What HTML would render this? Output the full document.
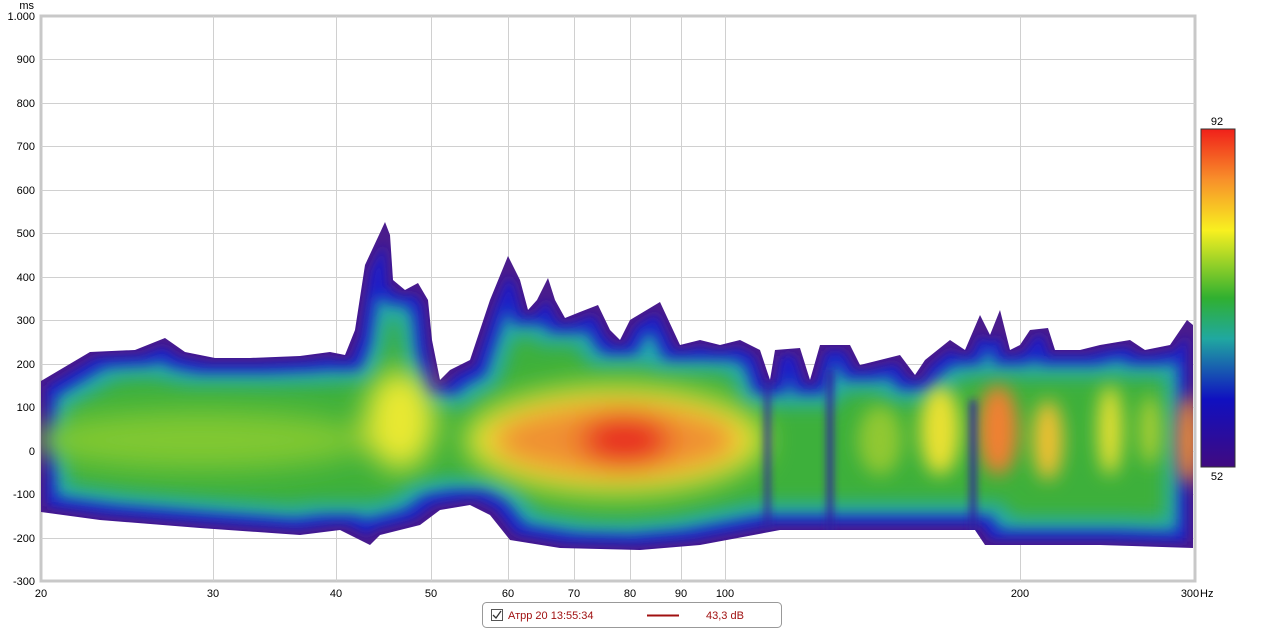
<!DOCTYPE html>
<html><head><meta charset="utf-8"><style>
body{margin:0;background:#fff;width:1265px;height:630px;overflow:hidden;font-family:"Liberation Sans",sans-serif}
</style></head><body>
<svg width="1265" height="630" xmlns="http://www.w3.org/2000/svg" font-family="Liberation Sans, sans-serif" font-size="11">
<defs>
<filter id="e8" x="-5%" y="-20%" width="110%" height="140%"><feMorphology operator="erode" radius="6"/><feGaussianBlur stdDeviation="5"/></filter>
<filter id="e20" x="-5%" y="-20%" width="110%" height="140%"><feMorphology operator="erode" radius="15"/><feGaussianBlur stdDeviation="7"/></filter>
<filter id="e32" x="-5%" y="-20%" width="110%" height="140%"><feMorphology operator="erode" radius="27"/><feGaussianBlur stdDeviation="9"/></filter>
<filter id="bl" x="-50%" y="-50%" width="200%" height="200%"><feGaussianBlur stdDeviation="14"/></filter>
<filter id="bl3" x="-50%" y="-50%" width="200%" height="200%"><feGaussianBlur stdDeviation="9"/></filter>
<filter id="bl2" x="-50%" y="-50%" width="200%" height="200%"><feGaussianBlur stdDeviation="4"/></filter>
<clipPath id="cp"><path id="envp" d="M41,381 L90,352 L135,350 L165,338 L185,352 L215,358 L250,358 L300,356 L330,352 L345,355 L355,330 L365,265 L385,222 L390,235 L393,280 L405,290 L418,283 L428,300 L432,340 L440,380 L450,370 L470,360 L490,300 L508,256 L520,280 L528,310 L537,300 L548,278 L555,300 L565,318 L580,312 L598,305 L610,330 L620,340 L630,320 L660,302 L680,345 L700,340 L720,345 L740,340 L760,350 L770,380 L775,350 L800,348 L810,380 L820,345 L850,345 L860,365 L900,355 L915,375 L925,360 L950,340 L965,350 L980,315 L990,335 L1000,310 L1010,350 L1020,345 L1030,330 L1048,328 L1055,350 L1080,350 L1100,345 L1130,340 L1145,350 L1170,345 L1187,320 L1193,325 L1193,548 L1100,545 L1050,545 L985,545 L975,530 L960,530 L900,530 L850,530 L780,530 L700,545 L640,550 L560,548 L510,540 L490,515 L470,505 L440,510 L420,525 L380,535 L370,545 L340,530 L300,535 L200,528 L100,520 L41,512 Z"/></clipPath>
<linearGradient id="cb" x1="0" y1="0" x2="0" y2="1">
<stop offset="0" stop-color="#f0201a"/><stop offset="0.15" stop-color="#f8902a"/><stop offset="0.3" stop-color="#f8f020"/><stop offset="0.5" stop-color="#30b030"/><stop offset="0.62" stop-color="#20a8a0"/><stop offset="0.8" stop-color="#1010c0"/><stop offset="1" stop-color="#400a80"/></linearGradient>
</defs>
<rect x="41" y="16" width="1154" height="565" fill="#fff" stroke="#c8c8c8" stroke-width="3"/>
<g stroke="#d0d0d0" stroke-width="1">
<line x1="41" x2="1195" y1="59.5" y2="59.5"/><line x1="41" x2="1195" y1="103.5" y2="103.5"/><line x1="41" x2="1195" y1="146.5" y2="146.5"/><line x1="41" x2="1195" y1="190.5" y2="190.5"/><line x1="41" x2="1195" y1="233.5" y2="233.5"/><line x1="41" x2="1195" y1="277.5" y2="277.5"/><line x1="41" x2="1195" y1="320.5" y2="320.5"/><line x1="41" x2="1195" y1="364.5" y2="364.5"/><line x1="41" x2="1195" y1="407.5" y2="407.5"/><line x1="41" x2="1195" y1="451.5" y2="451.5"/><line x1="41" x2="1195" y1="494.5" y2="494.5"/><line x1="41" x2="1195" y1="538.5" y2="538.5"/>
<line y1="16" y2="581" x1="213.5" x2="213.5"/><line y1="16" y2="581" x1="336.5" x2="336.5"/><line y1="16" y2="581" x1="431.5" x2="431.5"/><line y1="16" y2="581" x1="508.5" x2="508.5"/><line y1="16" y2="581" x1="574.5" x2="574.5"/><line y1="16" y2="581" x1="630.5" x2="630.5"/><line y1="16" y2="581" x1="681.5" x2="681.5"/><line y1="16" y2="581" x1="725.5" x2="725.5"/><line y1="16" y2="581" x1="1020.5" x2="1020.5"/>
</g>
<use href="#envp" fill="#4a1c8c"/>
<g clip-path="url(#cp)">
<use href="#envp" fill="#1a1ac8" filter="url(#e8)"/>
<use href="#envp" fill="#20a8b0" filter="url(#e20)"/>
<use href="#envp" fill="#3cb03a" filter="url(#e32)"/>
<g filter="url(#bl)">
<ellipse cx="200" cy="440" rx="170" ry="30" fill="#80c830"/>
<ellipse cx="400" cy="420" rx="35" ry="50" fill="#e8e830"/>
<ellipse cx="615" cy="440" rx="150" ry="55" fill="#e8e830"/>
<ellipse cx="615" cy="440" rx="125" ry="38" fill="#f09030"/>
<ellipse cx="625" cy="440" rx="45" ry="28" fill="#e83020"/>
</g>
<g filter="url(#bl3)">
<ellipse cx="880" cy="440" rx="22" ry="35" fill="#90c830"/>
<ellipse cx="940" cy="430" rx="20" ry="45" fill="#e8e030"/>
<ellipse cx="998" cy="430" rx="20" ry="45" fill="#f08030"/>
<ellipse cx="1048" cy="440" rx="15" ry="40" fill="#f0c030"/>
<ellipse cx="1110" cy="430" rx="12" ry="45" fill="#e8e030"/>
<ellipse cx="1150" cy="430" rx="10" ry="35" fill="#b0d030"/>
<ellipse cx="1188" cy="440" rx="12" ry="45" fill="#f09030"/>
</g>
<g filter="url(#bl2)" fill="#3020a0">
<rect x="827" y="370" width="6" height="170"/><rect x="970" y="400" width="6" height="140"/><rect x="765" y="380" width="5" height="150"/>
</g>
</g>
<g fill="#000" text-anchor="end">
<text x="35" y="20">1.000</text><text x="35" y="63">900</text><text x="35" y="107">800</text><text x="35" y="150">700</text><text x="35" y="194">600</text><text x="35" y="237">500</text><text x="35" y="281">400</text><text x="35" y="324">300</text><text x="35" y="368">200</text><text x="35" y="411">100</text><text x="35" y="455">0</text><text x="35" y="498">-100</text><text x="35" y="542">-200</text><text x="35" y="585">-300</text>
<text x="34" y="9">ms</text>
</g>
<g fill="#000" text-anchor="middle">
<text x="41" y="597">20</text><text x="213" y="597">30</text><text x="336" y="597">40</text><text x="431" y="597">50</text><text x="508" y="597">60</text><text x="574" y="597">70</text><text x="630" y="597">80</text><text x="681" y="597">90</text><text x="725" y="597">100</text><text x="1020" y="597">200</text><text x="1190" y="597">300</text>
</g>
<text x="1200" y="597" fill="#000">Hz</text>
<rect x="1201" y="129" width="34" height="338" fill="url(#cb)" stroke="#333"/>
<text x="1217" y="125" text-anchor="middle" fill="#000">92</text>
<text x="1217" y="480" text-anchor="middle" fill="#000">52</text>
<rect x="482.5" y="602.5" width="299" height="25" rx="4" fill="#fff" stroke="#999"/>
<rect x="491.5" y="609.5" width="11" height="11" fill="#fff" stroke="#555"/>
<path d="M493,615 L496,618 L501,611" stroke="#333" fill="none" stroke-width="1.3"/>
<text x="508" y="619" fill="#a01010">Атрр 20 13:55:34</text>
<line x1="647" x2="679" y1="615.5" y2="615.5" stroke="#a01010" stroke-width="2"/>
<text x="706" y="619" fill="#a01010">43,3 dB</text>
</svg>
</body></html>
